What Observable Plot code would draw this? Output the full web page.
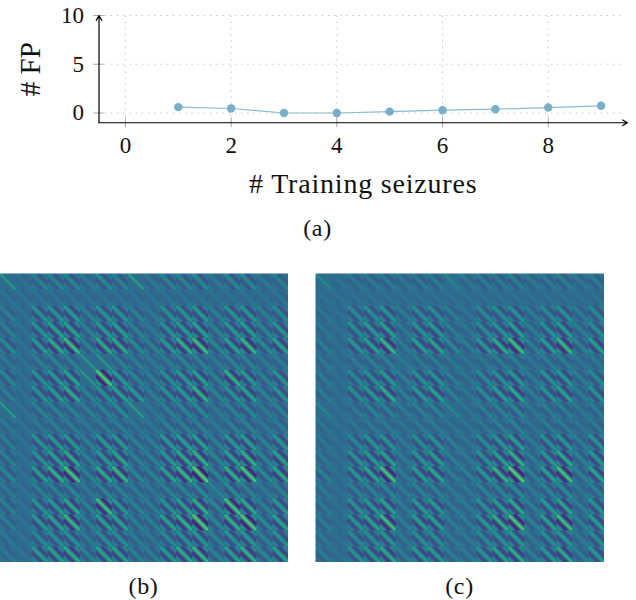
<!DOCTYPE html>
<html>
<head>
<meta charset="utf-8">
<script src="https://cdn.jsdelivr.net/npm/d3@7"></script>
<script src="https://cdn.jsdelivr.net/npm/@observablehq/plot@0.6"></script>
<style>
  html, body { margin: 0; padding: 0; background: #fff; overflow: hidden; }
  #page { position: relative; width: 636px; height: 600px; overflow: hidden; font-family: "Liberation Serif", serif; color: #111; }
  #page > * { position: absolute; }
  .cap { font-size: 24px; letter-spacing: 0.6px; transform: translateX(-50%); line-height: 1; white-space: nowrap; }
</style>
</head>
<body>
<div id="page"></div>
<script>
// Panel (a): values
const trainingSeizures = [1, 2, 3, 4, 5, 6, 7, 8, 9];
const falsePositives = [0.6, 0.46, 0, 0, 0.14, 0.29, 0.39, 0.56, 0.74];
const xTicks = [0, 2, 4, 6, 8];
const yTicks = [0, 5, 10];

// Panels (b), (c): the reference's individual cells are too fine to read one by one.
// These are visual estimates per 16px tile (stripe contrast), one row per tile row.
const tileContrastB = [
  [.5,.05,.2,.2,.25,.1,.3,.2,.6, .1,.2,.2,.3,.1,.25,.25,.1,.15],
  [.05,.05,.05,.05,.05,.05,.05,.05,.05, .05,.05,.05,.05,.05,.05,.05,.05,.07],
  [.15,.05,.4,.4,.5,.2,.4,.45,.2, .1,.35,.4,.5,.2,.4,.45,.2,.3],
  [.15,.05,.4,.6,.6,.2,.5,.6,.2, .1,.4,.5,.6,.2,.45,.55,.25,.4],
  [.3,.05,.5,.7,1,.2,.7,.7,.3, .2,.5,.8,1,.25,.6,.9,.3,.6],
  [.1,.05,.15,.2,.2,.5,.5,.2,.15, .1,.15,.2,.2,.1,.2,.2,.1,.15],
  [.25,.05,.4,.5,.6,.5,1.2,.5,.25, .15,.4,.5,.6,.2,.8,.5,.2,.4],
  [.15,.05,.4,.5,.7,.2,.4,.6,.5, .15,.4,.5,.8,.2,.4,.6,.2,.4],
  [.6,.05,.2,.2,.2,.15,.2,.3,.6, .1,.2,.25,.3,.1,.2,.3,.1,.2],
  [.1,.05,.1,.15,.15,.1,.15,.15,.1, .1,.2,.2,.2,.1,.2,.2,.1,.15],
  [.15,.05,.4,.5,.5,.2,.5,.5,.2, .15,.5,.55,.6,.2,.5,.55,.2,.45],
  [.2,.05,.4,.55,.7,.2,.5,.65,.2, .2,.5,.7,.8,.25,.6,.8,.25,.6],
  [.25,.05,.55,.8,1.1,.2,.7,.9,.25, .2,.6,.9,1.3,.25,.8,1.1,.3,.7],
  [.1,.05,.2,.2,.25,.1,.25,.2,.15, .1,.2,.2,.3,.3,.35,.2,.1,.2],
  [.2,.05,.4,.5,.7,.2,1,.5,.2, .15,.45,.6,.8,.25,1.1,.7,.2,.5],
  [.15,.05,.5,.6,.9,.2,.6,.6,.2, .2,.6,.8,1.2,.25,.8,1.2,.3,.6],
  [.1,.05,.3,.35,.4,.15,.35,.35,.15, .1,.3,.4,.5,.2,.4,.5,.2,.4],
  [.1,.05,.5,.6,.7,.2,.6,.6,.2, .15,.5,.7,.9,.2,.6,.8,.25,.6]
];
const tileContrastC = [
  [.3,.03,.1,.12,.15,.1,.15,.15,.3, .1,.15,.15,.2,.1,.12,.2,.1,.12],
  [.03,.03,.03,.03,.03,.03,.03,.03,.03, .03,.03,.03,.03,.03,.03,.03,.03,.03],
  [.08,.03,.3,.35,.45,.12,.35,.35,.15, .08,.3,.35,.4,.12,.3,.4,.12,.3],
  [.08,.03,.35,.5,.6,.12,.45,.5,.15, .1,.35,.45,.6,.15,.4,.55,.15,.35],
  [.15,.03,.45,.6,.9,.12,.55,.6,.25, .15,.5,.75,1,.2,.55,.9,.2,.6],
  [.1,.03,.12,.15,.15,.15,.12,.15,.1, .08,.1,.15,.15,.08,.15,.15,.08,.1],
  [.12,.03,.3,.4,.5,.15,.4,.45,.15, .1,.3,.4,.5,.12,.4,.5,.12,.3],
  [.12,.03,.35,.5,.7,.15,.5,.6,.2, .1,.35,.55,.7,.15,.45,.6,.15,.4],
  [.25,.03,.12,.2,.2,.12,.15,.2,.3, .08,.15,.2,.25,.1,.15,.2,.1,.15],
  [.08,.03,.08,.12,.12,.08,.12,.12,.08, .08,.12,.15,.2,.08,.15,.15,.08,.12],
  [.08,.03,.3,.4,.45,.12,.35,.4,.15, .1,.35,.45,.55,.12,.4,.5,.15,.4],
  [.1,.03,.4,.5,.6,.12,.45,.55,.15, .12,.4,.6,.8,.15,.5,.7,.2,.5],
  [.2,.03,.45,.65,1.1,.12,.55,.65,.15, .15,.5,.85,1.25,.2,.6,1.05,.2,.6],
  [.1,.03,.2,.2,.25,.12,.2,.2,.1, .1,.2,.25,.3,.12,.25,.3,.1,.2],
  [.12,.03,.4,.5,.6,.15,.5,.5,.15, .12,.4,.55,.7,.15,.5,.65,.15,.45],
  [.15,.03,.45,.6,1,.15,.55,.6,.15, .15,.5,.8,1.15,.2,.6,1,.2,.55],
  [.1,.03,.3,.35,.45,.12,.35,.35,.12, .1,.3,.4,.5,.12,.35,.45,.12,.35],
  [.12,.03,.4,.5,.65,.15,.5,.5,.15, .12,.45,.6,.75,.15,.5,.7,.15,.5]
];
// Cross-section of a tile across its diagonal, offsets -11..11
const stripeProfile = [-.15,.15,.4,.4,.12,-.3,-.6,-.65,-.35,.2,.7,1,.7,.2,-.35,-.65,-.6,-.3,.12,.4,.4,.15,-.15];
const lineProfile   = [0,0,0,0,0,0,0,0,0,0,.45,1,.45,0,0,0,0,0,0,0,0,0,0];
// Tiles that show a lone diagonal line rather than banded stripes
const lineTilesB = ["0,0","0,8","8,0","8,8","5,5","5,6","6,5","13,13"];
const lineTilesC = ["0,0","0,8","8,0","8,8","5,5"];
const cellsPerTile = 12;
const tilesPerSide = 18;

// The texture below is an approximation built from those estimates, not the original matrix.
function assemble(contrast, lineTiles) {
  const n = cellsPerTile * tilesPerSide, out = new Float64Array(n * n);
  for (let r = 0; r < n; ++r) for (let c = 0; c < n; ++c) {
    const tr = Math.floor(r / cellsPerTile), tc = Math.floor(c / cellsPerTile);
    const d = (r % cellsPerTile) - (c % cellsPerTile) + cellsPerTile - 1;
    const p = lineTiles.includes(tr + "," + tc) ? lineProfile : stripeProfile;
    out[r * n + c] = Math.pow(contrast[tr][tc], 0.7) * p[d];
  }
  return out;
}

const page = document.getElementById("page");
const serif = "Liberation Serif";
const points = trainingSeizures.map((s, i) => [s, falsePositives[i]]);

const lineChart = Plot.plot({
  width: 636, height: 245,
  marginLeft: 98.5, marginRight: 9, marginTop: 15, marginBottom: 122.75,
  style: {fontFamily: serif, fontSize: "23px", color: "#111", background: "transparent", overflow: "visible"},
  x: {domain: [-0.5, 9.5]},
  y: {domain: [-1, 10]},
  marks: [
    Plot.ruleX(xTicks, {y1: -1, y2: 10, stroke: "#bbb", strokeDasharray: "1.2 5", strokeWidth: 1}),
    Plot.ruleY(yTicks, {x1: -0.5, x2: 9.4, stroke: "#bbb", strokeDasharray: "1.2 5", strokeWidth: 1}),
    Plot.ruleX(xTicks, {y1: -1.5, y2: -0.5, stroke: "#aaa", strokeWidth: 1}),
    Plot.ruleY(yTicks, {x1: -0.6, x2: -0.4, stroke: "#aaa", strokeWidth: 1}),
    Plot.axisX(xTicks, {tickSize: 0, tickPadding: 14, label: null, fontSize: 23}),
    Plot.axisY(yTicks, {tickSize: 0, tickPadding: 15, label: null, fontSize: 23}),
    Plot.line(points, {x: "0", y: "1", stroke: "#8dbad0", strokeWidth: 1.2}),
    Plot.dot(points, {x: "0", y: "1", r: 4.2, fill: "#78aec8"}),
    Plot.arrow([[-0.5, -1, 9.5, -1], [-0.5, -1, -0.5, 10]], {x1: "0", y1: "1", x2: "2", y2: "3", stroke: "#000", strokeWidth: 1.2, headLength: 7}),
    Plot.text(["# Training seizures"], {frameAnchor: "bottom", dy: 70, text: d => d, fontSize: 28, lineAnchor: "bottom", fill: "#111"}),
    Plot.text(["# FP"], {frameAnchor: "left", textAnchor: "middle", dx: -68, rotate: -90, text: d => d, fontSize: 29, fill: "#111"})
  ]
});
lineChart.style.left = "0px"; lineChart.style.top = "0px";
lineChart.querySelectorAll("text").forEach(t => { if (t.textContent.includes("Training")) t.style.letterSpacing = "0.8px"; });
page.append(lineChart);

function heatmap(contrast, lineTiles, left) {
  const n = cellsPerTile * tilesPerSide;
  const chart = Plot.plot({
    width: 289, height: 289, margin: 0,
    x: {domain: [0, n], axis: null},
    y: {domain: [0, n], range: [0, 289], axis: null},
    color: {type: "linear", scheme: "viridis", domain: [-0.9, 1.65]},
    marks: [Plot.raster(assemble(contrast, lineTiles), {width: n, height: n, x1: 0, x2: n, y1: 0, y2: n})]
  });
  chart.style.left = left + "px"; chart.style.top = "273px";
  page.append(chart);
}
heatmap(tileContrastB, lineTilesB, -1);
heatmap(tileContrastC, lineTilesC, 315);

for (const [label, x, y] of [["(a)", 317.5, 216], ["(b)", 143.5, 574], ["(c)", 459.5, 574]]) {
  const el = document.createElement("div");
  el.className = "cap"; el.textContent = label;
  el.style.left = x + "px"; el.style.top = y + "px";
  page.append(el);
}
</script>
</body>
</html>
